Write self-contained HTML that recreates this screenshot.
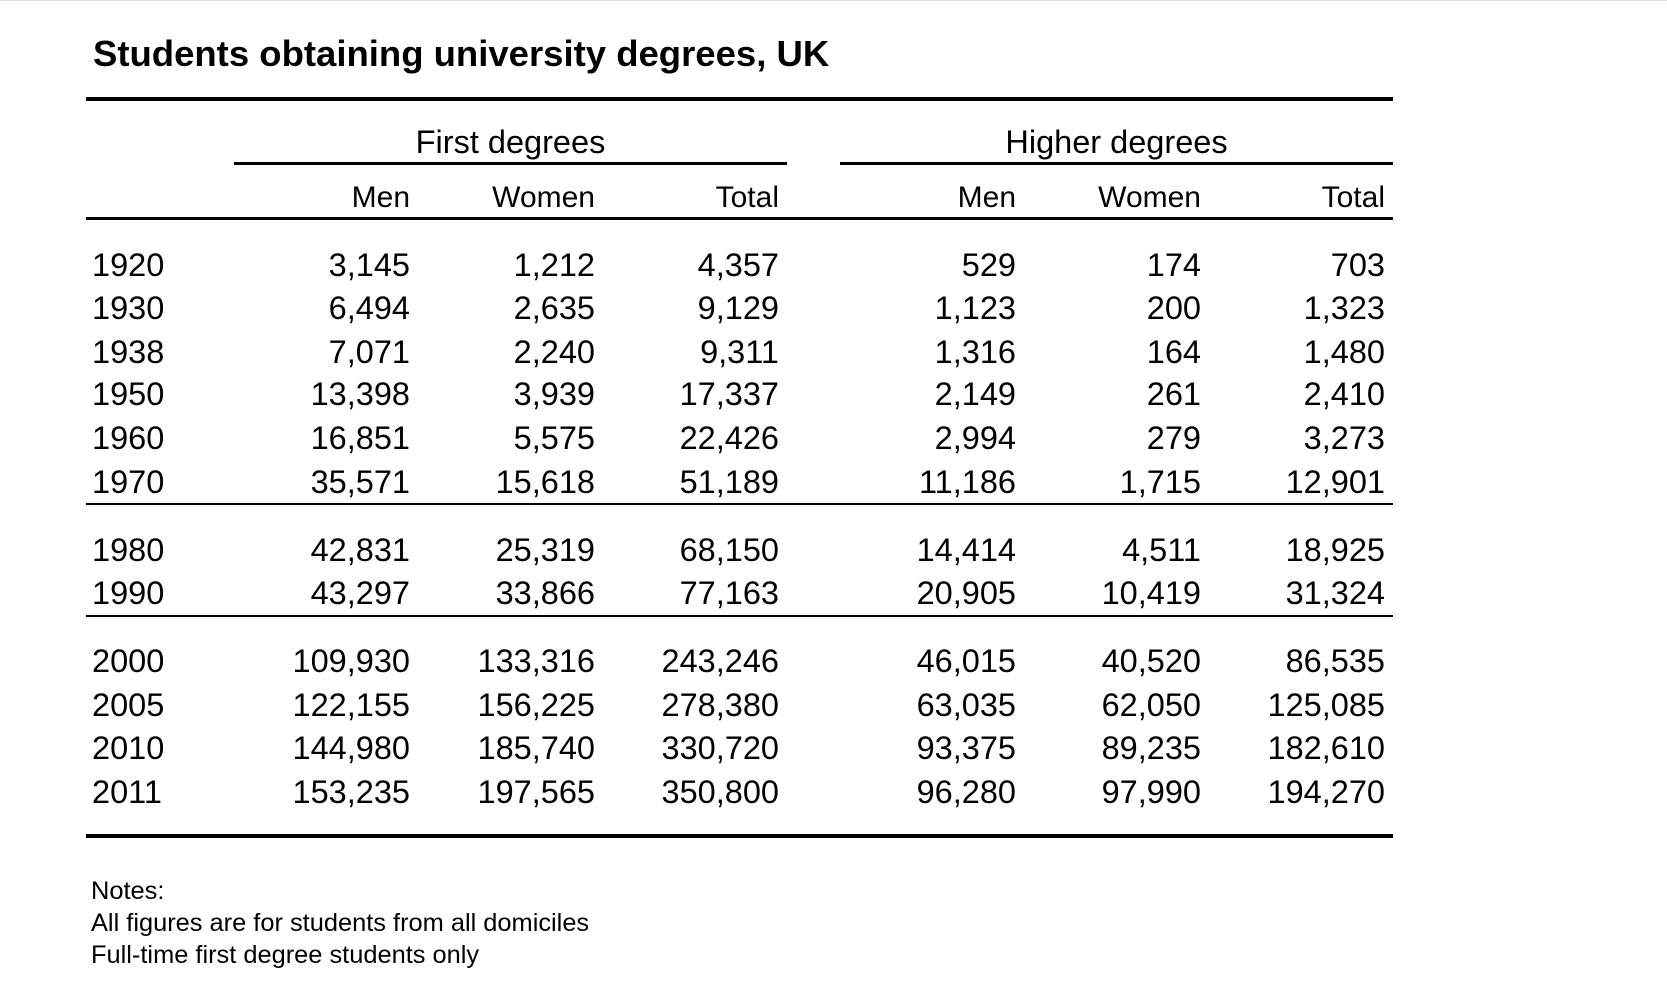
<!DOCTYPE html>
<html><head><style>
body{margin:0;width:1667px;height:1000px;background:#fff;position:relative;overflow:hidden;font-family:"Liberation Sans",Arial,sans-serif;color:#000}
.t{position:absolute;white-space:nowrap;line-height:40px;height:40px}
.r{position:absolute;background:#000}
.n{font-size:32.5px}
</style></head><body>
<div style="position:absolute;left:0;top:0;width:1667px;height:1px;background:#ddd"></div>
<div class="t" style="left:93px;top:34px;font-size:36.5px;font-weight:bold">Students obtaining university degrees, UK</div>
<div class="r" style="left:86px;top:97px;width:1307px;height:4px"></div>
<div class="t" style="left:234px;width:553px;top:122px;font-size:32.5px;text-align:center">First degrees</div>
<div class="t" style="left:840px;width:553px;top:122px;font-size:32.5px;text-align:center">Higher degrees</div>
<div class="r" style="left:234px;top:162px;width:553px;height:3px"></div>
<div class="r" style="left:840px;top:162px;width:553px;height:3px"></div>
<div class="r" style="left:86px;top:217px;width:1307px;height:3px"></div>
<div class="r" style="left:86px;top:503px;width:1307px;height:1.5px"></div>
<div class="r" style="left:86px;top:615px;width:1307px;height:1.5px"></div>
<div class="r" style="left:86px;top:834px;width:1307px;height:4px"></div>
<div id="c"></div>
<div class="t" style="left:91px;top:871px;font-size:25.4px">Notes:</div>
<div class="t" style="left:91px;top:903px;font-size:25.4px">All figures are for students from all domiciles</div>
<div class="t" style="left:91px;top:935px;font-size:25.4px">Full-time first degree students only</div>
<script>
var R=[410,595,779,1016,1201,1385];
var H=["Men","Women","Total","Men","Women","Total"];
var out="";
H.forEach(function(h,i){out+='<div class="t" style="right:'+(1667-R[i])+'px;top:178px;font-size:30px">'+h+'</div>';});
var rows=[[265,"1920","3,145","1,212","4,357","529","174","703"],
[308,"1930","6,494","2,635","9,129","1,123","200","1,323"],
[352,"1938","7,071","2,240","9,311","1,316","164","1,480"],
[394,"1950","13,398","3,939","17,337","2,149","261","2,410"],
[438,"1960","16,851","5,575","22,426","2,994","279","3,273"],
[482,"1970","35,571","15,618","51,189","11,186","1,715","12,901"],
[550,"1980","42,831","25,319","68,150","14,414","4,511","18,925"],
[593,"1990","43,297","33,866","77,163","20,905","10,419","31,324"],
[661,"2000","109,930","133,316","243,246","46,015","40,520","86,535"],
[705,"2005","122,155","156,225","278,380","63,035","62,050","125,085"],
[748,"2010","144,980","185,740","330,720","93,375","89,235","182,610"],
[792,"2011","153,235","197,565","350,800","96,280","97,990","194,270"]];
rows.forEach(function(r){var y=r[0]-20;
out+='<div class="t n" style="left:92px;top:'+y+'px">'+r[1]+'</div>';
for(var i=0;i<6;i++)out+='<div class="t n" style="right:'+(1667-R[i])+'px;top:'+y+'px">'+r[i+2]+'</div>';});
document.getElementById("c").innerHTML=out;
</script>
</body></html>
